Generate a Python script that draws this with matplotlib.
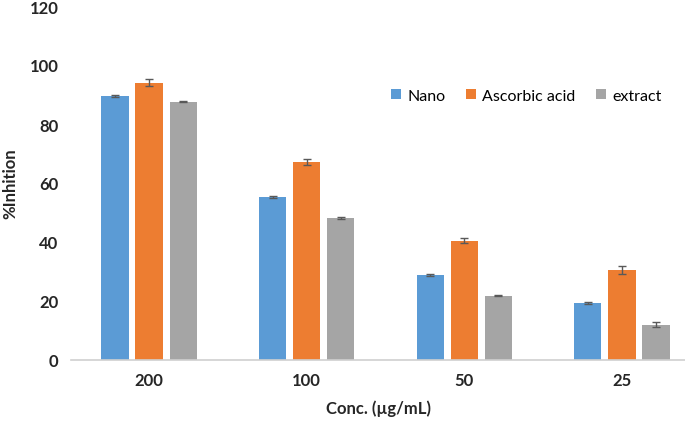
import matplotlib.pyplot as plt
import numpy as np

concs = ["200", "100", "50", "25"]
series = ["Nano", "Ascorbic acid", "extract"]
nano = [89.6, 55.3, 28.9, 19.3]
ascorbic = [94.0, 67.1, 40.4, 30.4]
extract = [87.6, 48.2, 21.8, 12.0]
nano_err = [0.4, 0.3, 0.3, 0.2]
ascorbic_err = [1.2, 1.0, 0.8, 1.3]
extract_err = [0.3, 0.3, 0.2, 0.8]

plt.rcParams["font.family"] = ["Lato", "DejaVu Sans"]

fig = plt.figure(figsize=(6.85, 4.27), dpi=100)
ax = fig.add_axes([71 / 685, 66 / 427, 614 / 685, 354 / 427])

x = np.arange(len(concs))
width = 0.172
offset = 0.216
colors = ["#5B9BD5", "#ED7D31", "#A5A5A5"]
values = [nano, ascorbic, extract]
errors = [nano_err, ascorbic_err, extract_err]
for i, (label, vals, errs, color) in enumerate(zip(series, values, errors, colors)):
    ax.bar(x + (i - 1) * offset, vals, width, color=color, label=label,
           yerr=errs, capsize=3,
           error_kw={"ecolor": "#595959", "elinewidth": 1, "capthick": 1})

ax.set_xlim(-0.495, 3.4)
ax.set_ylim(0, 120)
ax.set_yticks(range(0, 121, 20))
ax.set_xticks(x)
ax.set_xticklabels(concs)
for spine in ["top", "right", "left"]:
    ax.spines[spine].set_visible(False)
ax.spines["bottom"].set_color("#D0D0D0")
ax.spines["bottom"].set_linewidth(1.2)
ax.tick_params(axis="both", length=0, labelsize=12, pad=9)
for lbl in ax.get_xticklabels() + ax.get_yticklabels():
    lbl.set_fontweight("bold")
    lbl.set_color("#262626")
ax.set_xlabel("Conc. (\u00b5g/mL)", fontsize=12, fontweight="bold", color="#262626", labelpad=8)
ax.set_ylabel("%Inhition", fontsize=12, fontweight="bold", color="#262626", labelpad=8)

ax.legend(loc="center right", bbox_to_anchor=(0.985, 0.746), ncol=3, frameon=False,
          fontsize=11.5, handlelength=0.6, handleheight=0.6, columnspacing=1.3,
          handletextpad=0.4)

fig.savefig("out.png", dpi=100)
